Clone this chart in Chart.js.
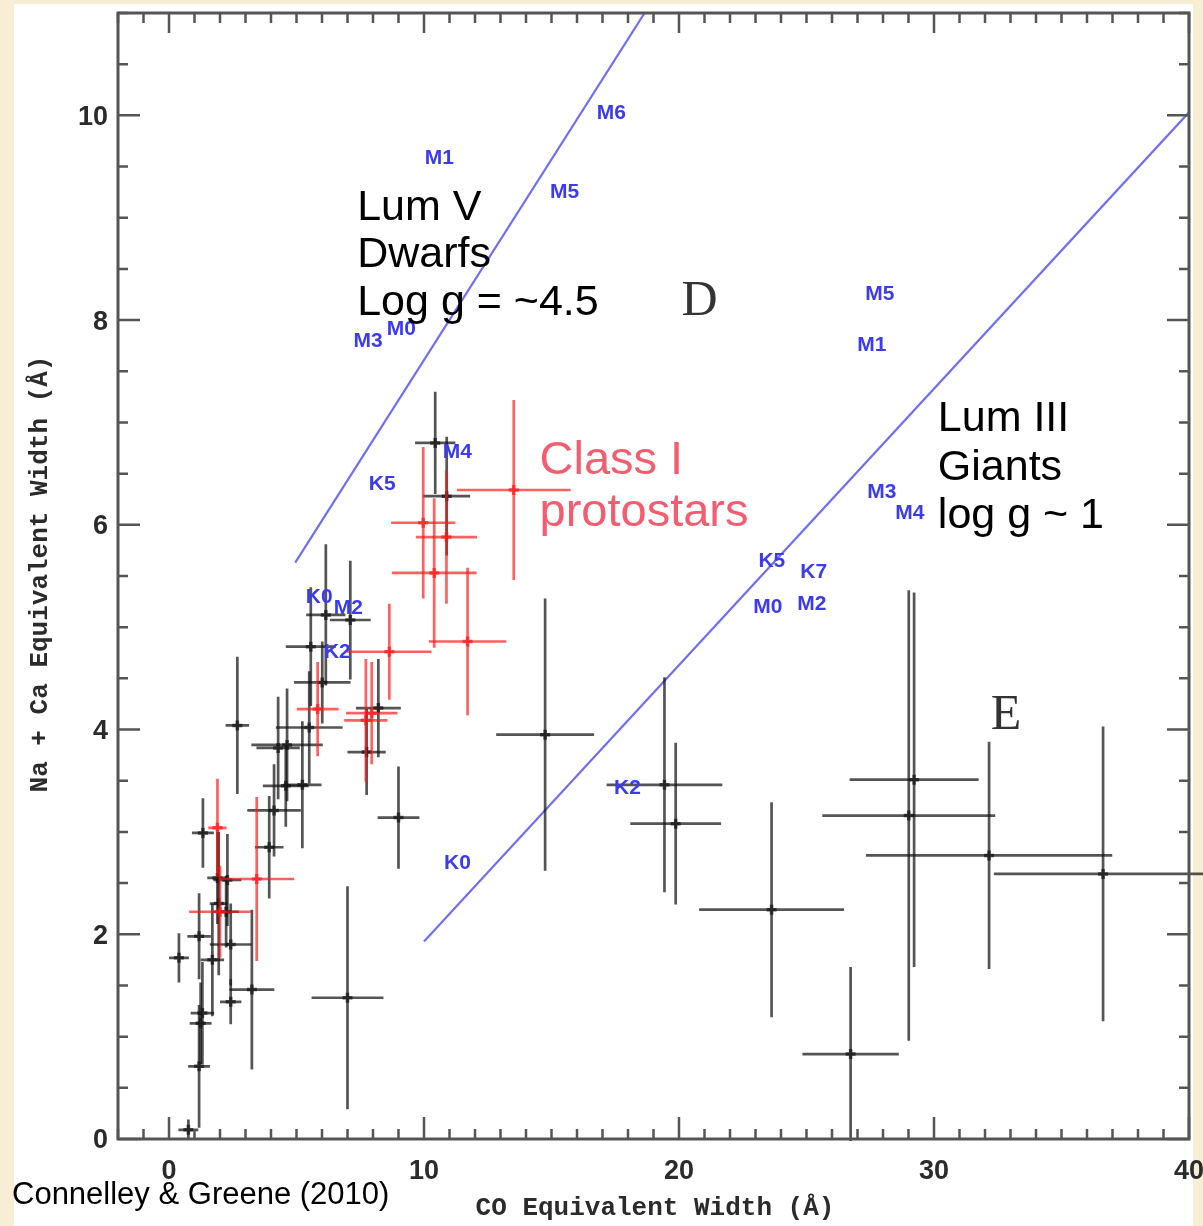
<!DOCTYPE html>
<html lang="en">
<head>
<meta charset="UTF-8">
<title>Na + Ca vs CO Equivalent Width</title>
<script src="https://cdn.jsdelivr.net/npm/chart.js@4.4.0/dist/chart.umd.min.js"></script>
<style>
  html, body { margin: 0; padding: 0; background: #f8eed5; }
  #wrap { position: relative; width: 1203px; height: 1226px; overflow: hidden; }
  #panel { position: absolute; left: 14px; top: 4px; width: 1179px; height: 1222px; background: #fff; }
  canvas { position: absolute; left: 0; top: 0; }
</style>
</head>
<body>
<div id="wrap">
  <div id="panel"></div>
  <canvas id="ewChart" width="1203" height="1226"></canvas>
</div>
<script>
// tick labels on both axes
const xTickLabels = [0, 10, 20, 30, 40];
const yTickLabels = [0, 2, 4, 6, 8, 10];

// field stars (black)
const starX    = [19.43, 19.87, 23.63, 26.73, 29.22, 29.01, 32.16, 36.63, 14.75, 9.00, 7.00,
                  10.44, 10.89, 6.15, 7.11, 5.56, 6.01, 8.21, 7.75, 2.68,
                  4.63, 4.28, 5.50, 4.58, 5.23, 4.12, 3.93,
                  1.33, 1.90, 2.29, 2.24, 1.18, 2.42, 0.39, 1.70, 2.42, 3.25, 1.31, 1.24, 1.18, 0.76,
                  1.95];
const starY    = [3.46, 3.08, 2.24, 0.83, 3.51, 3.16, 2.77, 2.59, 3.95, 3.14, 1.38,
                  6.80, 6.28, 5.12, 5.07, 4.81, 4.46, 4.21, 3.78, 4.04,
                  3.85, 3.82, 4.02, 3.45, 3.46, 3.21, 2.85,
                  2.99, 2.55, 2.53, 2.22, 1.98, 1.90, 1.77, 1.75, 1.34, 1.46, 1.23, 1.13, 0.71, 0.09,
                  2.30];
const starXErr = [2.27, 1.78, 2.84, 1.89, 2.53, 3.39, 4.83, 4.28, 1.92, 0.82, 1.41,
                  0.79, 0.92, 0.77, 0.80, 0.98, 1.11, 0.88, 0.75, 0.46,
                  1.40, 0.85, 1.31, 0.90, 0.75, 1.05, 0.56,
                  0.43, 0.40, 0.55, 0.50, 0.46, 0.82, 0.39, 0.46, 0.42, 0.88, 0.46, 0.43, 0.43, 0.39,
                  0.35];
const starYErr = [1.05, 0.79, 1.05, 0.85, 1.83, 2.20, 1.11, 1.44, 1.33, 0.50, 1.09,
                  0.50, 0.58, 0.69, 0.58, 0.58, 0.40, 0.48, 0.42, 0.67,
                  0.55, 0.50, 0.55, 0.40, 0.62, 0.45, 0.50,
                  0.34, 0.45, 0.45, 0.35, 0.42, 0.40, 0.24, 0.55, 0.22, 0.78, 0.50, 0.40, 0.60, 0.10,
                  0.70];

// Class I protostars (red)
const protoX    = [8.64, 9.97, 10.88, 10.40, 11.71, 13.52, 7.95, 7.72, 5.83, 1.90, 3.44, 2.00];
const protoY    = [4.76, 6.02, 5.88, 5.53, 4.86, 6.34, 4.16, 4.09, 4.20, 3.04, 2.54, 2.22];
const protoXErr = [1.65, 1.26, 1.20, 1.66, 1.52, 2.23, 1.01, 0.85, 0.82, 0.36, 1.47, 1.21];
const protoYErr = [0.47, 0.74, 0.65, 0.73, 0.72, 0.88, 0.50, 0.60, 0.46, 0.48, 0.80, 0.45];

// luminosity class sequences
const dwarfLineX = [4.95, 18.65];
const dwarfLineY = [5.63, 11.0];
const giantLineX = [10.0, 40.0];
const giantLineY = [1.93, 10.03];

// spectral type markers along the sequences
const typeNames = ['M6', 'M1', 'M5', 'M3', 'M0', 'K5', 'M4', 'K0', 'M2', 'K2',
                   'M5', 'M1', 'M3', 'M4', 'K5', 'K7', 'M0', 'M2', 'K2', 'K0'];
const typeX = [17.35, 10.60, 15.51, 7.81, 9.11, 8.36, 11.31, 5.89, 7.03, 6.60,
               27.88, 27.56, 27.95, 29.05, 23.64, 25.28, 23.48, 25.21, 17.98, 11.31];
const typeY = [10.02, 9.58, 9.25, 7.79, 7.91, 6.40, 6.71, 5.29, 5.19, 4.76,
               8.25, 7.75, 6.32, 6.11, 5.64, 5.54, 5.20, 5.22, 3.43, 2.69];

function toPoints(xs, ys) {
  return xs.map((x, i) => ({ x: x, y: ys[i] }));
}

// crosses for every dataset that carries errX / errY
const errorBars = {
  id: 'errorBars',
  afterDatasetsDraw(chart) {
    const ctx = chart.ctx;
    const sx = chart.scales.x, sy = chart.scales.y;
    chart.data.datasets.forEach(ds => {
      if (!ds.errX) return;
      ctx.save();
      ctx.strokeStyle = ds.barColor;
      ctx.lineCap = 'butt';
      ds.data.forEach((p, i) => {
        const cx = sx.getPixelForValue(p.x), cy = sy.getPixelForValue(p.y);
        ctx.lineWidth = 2.7;
        ctx.beginPath();
        ctx.moveTo(sx.getPixelForValue(p.x - ds.errX[i]), cy);
        ctx.lineTo(sx.getPixelForValue(p.x + ds.errX[i]), cy);
        ctx.moveTo(cx, sy.getPixelForValue(p.y - ds.errY[i]));
        ctx.lineTo(cx, sy.getPixelForValue(p.y + ds.errY[i]));
        ctx.stroke();
        // small heavier mark at the centre
        ctx.lineWidth = 3.5;
        ctx.beginPath();
        ctx.moveTo(cx - 5, cy); ctx.lineTo(cx + 5, cy);
        ctx.moveTo(cx, cy - 5); ctx.lineTo(cx, cy + 5);
        ctx.stroke();
      });
      ctx.restore();
    });
  }
};

// box, inward ticks, labels and annotations
const frame = {
  id: 'frame',
  afterDraw(chart) {
    const ctx = chart.ctx;
    const sx = chart.scales.x, sy = chart.scales.y;
    const a = chart.chartArea;
    ctx.save();

    // spectral types
    ctx.fillStyle = '#3b3bf2';
    ctx.font = 'bold 21px "Liberation Sans", Arial, sans-serif';
    ctx.textAlign = 'center';
    ctx.textBaseline = 'middle';
    typeNames.forEach((t, i) => ctx.fillText(t, sx.getPixelForValue(typeX[i]), sy.getPixelForValue(typeY[i])));

    // region letters
    ctx.fillStyle = '#333';
    ctx.font = '50px "Liberation Serif", "Times New Roman", serif';
    ctx.textBaseline = 'alphabetic';
    ctx.fillText('D', sx.getPixelForValue(20.81), sy.getPixelForValue(8.05));
    ctx.fillText('E', sx.getPixelForValue(32.82), sy.getPixelForValue(4.01));

    // frame
    ctx.strokeStyle = '#555';
    ctx.lineWidth = 3;
    ctx.strokeRect(a.left, a.top, a.right - a.left, a.bottom - a.top);

    ctx.lineWidth = 2.5;
    ctx.beginPath();
    for (let v = -2; v <= 40; v++) {
      const px = sx.getPixelForValue(v);
      const len = v % 10 === 0 ? 22 : 10;
      ctx.moveTo(px, a.bottom); ctx.lineTo(px, a.bottom - len);
      ctx.moveTo(px, a.top); ctx.lineTo(px, a.top + (v % 10 === 0 ? 20 : 10));
    }
    for (let v = 0; v <= 11; v += 0.5) {
      const py = sy.getPixelForValue(v);
      const len = v % 2 === 0 ? 22 : 10;
      ctx.moveTo(a.left, py); ctx.lineTo(a.left + len, py);
      ctx.moveTo(a.right, py); ctx.lineTo(a.right - len, py);
    }
    ctx.stroke();

    // tick labels
    ctx.fillStyle = '#2b2b2b';
    ctx.font = 'bold 27px "Liberation Sans", Arial, sans-serif';
    ctx.textBaseline = 'middle';
    ctx.textAlign = 'right';
    yTickLabels.forEach(v => ctx.fillText(String(v), a.left - 10, sy.getPixelForValue(v) + 2));
    ctx.textAlign = 'center';
    xTickLabels.forEach(v => ctx.fillText(String(v), sx.getPixelForValue(v), a.bottom + 33));

    // axis titles
    ctx.font = 'bold 26px "Liberation Mono", "Courier New", monospace';
    ctx.fillText('CO Equivalent Width (\u00c5)', 655, a.bottom + 69);
    ctx.save();
    ctx.translate(40, 574);
    ctx.rotate(-Math.PI / 2);
    ctx.fillText('Na + Ca Equivalent Width (\u00c5)', 0, 0);
    ctx.restore();

    // annotations
    ctx.textAlign = 'left';
    ctx.textBaseline = 'alphabetic';
    ctx.fillStyle = '#000';
    ctx.font = '43px "Liberation Sans", Arial, sans-serif';
    const lumV = ['Lum V', 'Dwarfs', 'Log g = ~4.5'];
    const lumVY = [8.975, 8.516, 8.047];
    lumV.forEach((t, i) => ctx.fillText(t, sx.getPixelForValue(7.38), sy.getPixelForValue(lumVY[i])));
    const lumIII = ['Lum III', 'Giants', 'log g ~ 1'];
    const lumIIIY = [6.914, 6.436, 5.967];
    lumIII.forEach((t, i) => ctx.fillText(t, sx.getPixelForValue(30.15), sy.getPixelForValue(lumIIIY[i])));
    ctx.fillStyle = '#f35d70';
    ctx.font = '47px "Liberation Sans", Arial, sans-serif';
    ctx.fillText('Class I', sx.getPixelForValue(14.53), sy.getPixelForValue(6.494));
    ctx.fillText('protostars', sx.getPixelForValue(14.53), sy.getPixelForValue(5.986));

    // source
    ctx.fillStyle = '#000';
    ctx.font = '31px "Liberation Sans", Arial, sans-serif';
    ctx.textBaseline = 'middle';
    ctx.fillText('Connelley & Greene (2010)', 12, 1195);
    ctx.restore();
  }
};

new Chart(document.getElementById('ewChart'), {
  type: 'scatter',
  data: {
    datasets: [
      {
        label: 'Field stars',
        data: toPoints(starX, starY),
        errX: starXErr, errY: starYErr,
        barColor: 'rgba(20,20,20,0.72)',
        pointRadius: 0
      },
      {
        label: 'Class I protostars',
        data: toPoints(protoX, protoY),
        errX: protoXErr, errY: protoYErr,
        barColor: 'rgba(255,20,20,0.68)',
        pointRadius: 0
      },
      {
        label: 'Lum V',
        type: 'line',
        data: toPoints(dwarfLineX, dwarfLineY),
        borderColor: 'rgba(95,95,245,0.9)',
        borderWidth: 2.2,
        pointRadius: 0
      },
      {
        label: 'Lum III',
        type: 'line',
        data: toPoints(giantLineX, giantLineY),
        borderColor: 'rgba(95,95,245,0.9)',
        borderWidth: 2.2,
        pointRadius: 0
      }
    ]
  },
  options: {
    responsive: false,
    animation: false,
    layout: { padding: { left: 118, right: 14, top: 13, bottom: 87 } },
    plugins: { legend: { display: false }, tooltip: { enabled: false } },
    scales: {
      x: { type: 'linear', min: -2, max: 40, display: false },
      y: { type: 'linear', min: 0, max: 11, display: false }
    }
  },
  plugins: [errorBars, frame]
});
</script>
</body>
</html>
